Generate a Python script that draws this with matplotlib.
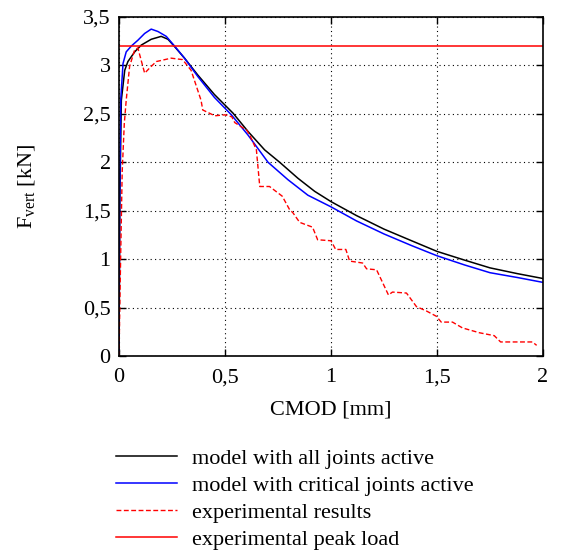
import matplotlib
matplotlib.use('Agg')
import matplotlib.pyplot as plt

plt.rcParams['font.family'] = ['Liberation Serif', 'DejaVu Serif']
plt.rcParams['mathtext.fontset'] = 'custom'
plt.rcParams['mathtext.rm'] = 'Liberation Serif'

# model with all joints active
x_all = [0, 0.004, 0.011, 0.027, 0.042, 0.074, 0.105, 0.152, 0.199, 0.231, 0.262, 0.309,
         0.372, 0.45, 0.538, 0.609, 0.687, 0.758, 0.844, 0.923, 1.0, 1.12, 1.25, 1.38, 1.5,
         1.63, 1.75, 1.88, 2.0]
y_all = [0, 1.6, 2.64, 2.95, 3.04, 3.14, 3.21, 3.27, 3.30, 3.27, 3.195, 3.075,
         2.90, 2.70, 2.507, 2.317, 2.128, 2.0, 1.835, 1.70, 1.594, 1.45, 1.31, 1.19, 1.08,
         0.99, 0.91, 0.85, 0.80]

# model with critical joints active
x_crit = [0, 0.003, 0.008, 0.019, 0.034, 0.058, 0.089, 0.121, 0.152, 0.184, 0.223, 0.262,
          0.309, 0.372, 0.45, 0.53, 0.609, 0.703, 0.797, 0.891, 1.0, 1.12, 1.25, 1.38, 1.5,
          1.63, 1.75, 1.88, 2.0]
y_crit = [0, 1.6, 2.64, 3.02, 3.14, 3.20, 3.26, 3.33, 3.375, 3.35, 3.30, 3.20,
          3.075, 2.885, 2.67, 2.49, 2.28, 2.0, 1.82, 1.66, 1.54, 1.395, 1.26, 1.14, 1.035,
          0.94, 0.86, 0.81, 0.76]

# experimental results
x_exp = [0, 0.006, 0.015, 0.025, 0.034, 0.05, 0.074, 0.089, 0.121, 0.152, 0.176, 0.246, 0.30,
         0.34, 0.387, 0.395, 0.452, 0.50, 0.532, 0.546, 0.603, 0.617, 0.648, 0.664, 0.71,
         0.77, 0.805, 0.82, 0.852, 0.913, 0.937, 1.0, 1.022, 1.07, 1.088, 1.149, 1.168, 1.215,
         1.243, 1.271, 1.29, 1.356, 1.403, 1.45, 1.497, 1.52, 1.573, 1.62, 1.70, 1.77, 1.80,
         1.95, 1.97]
y_exp = [0, 0.8, 1.9, 2.4, 2.64, 2.99, 3.16, 3.18, 2.92, 2.99, 3.04, 3.075, 3.06,
         2.95, 2.64, 2.54, 2.48, 2.49, 2.47, 2.41, 2.33, 2.28, 2.13, 1.75, 1.75,
         1.65, 1.51, 1.48, 1.38, 1.33, 1.20, 1.19, 1.10, 1.10, 0.98, 0.96, 0.90, 0.89,
         0.76, 0.63, 0.66, 0.65, 0.51, 0.465, 0.41, 0.35, 0.35, 0.29, 0.24, 0.21, 0.145,
         0.145, 0.11]

peak_load = 3.2

x_ticks = [0, 0.5, 1, 1.5, 2]
x_tick_labels = ['0', '0,5', '1', '1,5', '2']
y_ticks = [0, 0.5, 1, 1.5, 2, 2.5, 3, 3.5]
y_tick_labels = ['0', '0,5', '1', '1,5', '2', '2,5', '3', '3,5']

fig = plt.figure(figsize=(5.62, 5.54), dpi=100)
ax = fig.add_axes([119 / 562, 1 - 356 / 554, 424 / 562, 339 / 554])

ax.plot(x_all, y_all, color='black', lw=1.1, label='model with all joints active')
ax.plot(x_crit, y_crit, color='#0000ff', lw=1.1, label='model with critical joints active')
ax.plot(x_exp, y_exp, color='#ff0000', lw=1.0, ls=(0, (3.5, 1.8)), label='experimental results')
ax.axhline(peak_load, color='#ff0000', lw=1.1, label='experimental peak load')

ax.set_xlim(0, 2)
ax.set_ylim(0, 3.5)
ax.set_xticks(x_ticks)
ax.set_xticklabels(x_tick_labels)
ax.set_yticks(y_ticks)
ax.set_yticklabels(y_tick_labels)
ax.tick_params(direction='in', top=True, right=True, length=5, width=1, labelsize=16)
ax.tick_params(axis='x', pad=9)
ax.tick_params(axis='y', pad=6)
ax.grid(True, color='black', lw=0.8, ls=(0, (1, 3)))
for s in ax.spines.values():
    s.set_linewidth(1.2)

ax.set_xlabel('CMOD [mm]', fontsize=16, va='top')
ax.xaxis.set_label_coords(0.5, -0.13)
ax.set_ylabel('F$_\\mathregular{vert}$ [kN]', fontsize=16)
ax.yaxis.set_label_coords(-0.191, 0.5)

fig.legend(loc='upper left', bbox_to_anchor=(116 / 562, 1 - 448 / 554), frameon=False,
           fontsize=16, handlelength=2.75, handletextpad=0.68, labelspacing=0.3,
           borderpad=0, borderaxespad=0)

fig.savefig('out.png', dpi=100)
